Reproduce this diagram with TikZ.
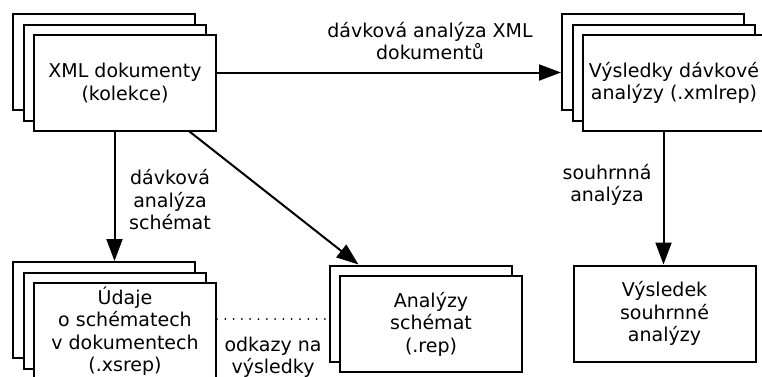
\documentclass[tikz,border=0pt]{standalone}
\usepackage{fontspec}
\setmainfont{DejaVu Sans}
\usetikzlibrary{arrows.meta,backgrounds,calc}

\tikzset{
  docbox/.style={draw=black, fill=white, line width=2pt, inner sep=0pt,
    minimum width=182pt, minimum height=96pt, align=center},
  txt/.style={inner sep=0pt, align=center},
  flow/.style={line width=2pt, -{Triangle[length=22pt,width=16pt]}},
  refline/.style={line width=2pt, line cap=round, dash pattern=on 0pt off 8.3pt},
}

\begin{document}
\begin{tikzpicture}[x=1pt, y=-1pt,
    every node/.style={font=\fontsize{19}{22.5}\selectfont}]
  \useasboundingbox (0,0) rectangle (762,376);
  \clip (0,0) rectangle (762,376);

  % collection of XML documents (stack of three)
  \node[docbox] (xml3) at (104,62) {};
  \node[docbox] (xml2) at (114.5,72.5) {};
  \node[docbox] (xml1) at (125,83) {XML dokumenty\\(kolekce)};

  % batch analysis results (stack of three)
  \node[docbox] (res3) at (653,62) {};
  \node[docbox] (res2) at (663.5,72.5) {};
  \node[docbox] (res1) at (674,83) {Výsledky dávkové\\analýzy (.xmlrep)};

  % schema usage data (stack of three)
  \node[docbox] (ud3) at (104,310) {};
  \node[docbox] (ud2) at (114.5,320.5) {};
  \node[docbox] (ud1) at (125,331) {Údaje\\o schématech\\v dokumentech\\(.xsrep)};

  % schema analyses (stack of two)
  \node[docbox] (an2) at (420.5,313.5) {};
  \node[docbox] (an1) at (431,324) {Analýzy\\schémat\\(.rep)};

  % summary result
  \node[docbox] (vys) at (664.5,313.5) {Výsledek\\souhrnné\\analýzy};

  \coordinate (dotrow) at (0,319);

  \begin{pgfonlayer}{background}
    \draw[flow] (xml1.east |- xml2.center) -- (res3.west |- xml2.center);
    \draw[flow] (xml2.center |- xml1.south) -- (xml2.center |- ud3.north);
    \draw[flow] (xml2.center) -- (an2);
    \draw[flow] (res2.center |- res1.south) -- (res2.center |- vys.north);
    \draw[refline] (ud1.east |- dotrow) -- (an2.west |- dotrow);
  \end{pgfonlayer}

  % connector labels
  \node[txt] (lbatch) at (430,41) {dávková analýza XML\\dokumentů};
  \node[txt] (lschema) at (170,200) {dávková\\analýza\\schémat};
  \node[txt] (lsum) at (607,185) {souhrnná\\analýza};
  \node[txt] (lrefs) at (273,357) {odkazy na\\výsledky};
\end{tikzpicture}
\end{document}
